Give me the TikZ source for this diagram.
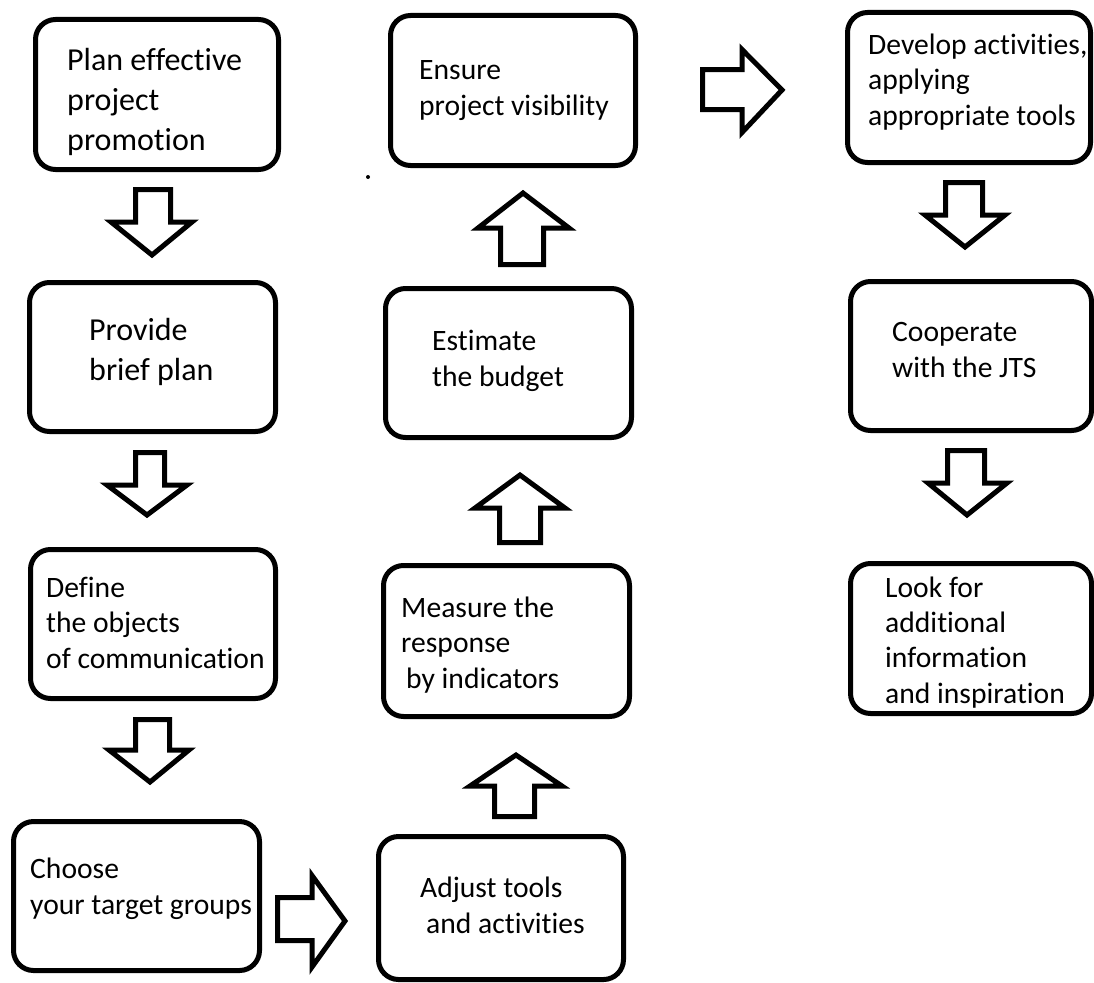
\documentclass[tikz,border=0pt]{standalone}
\usepackage{fontspec}
\setmainfont{Carlito}[Ligatures=CommonOff]
\begin{document}
\begin{tikzpicture}[x=1pt,y=-1pt,
  box/.style={draw, line width=5pt, rounded corners=20pt, inner sep=0pt, outer sep=0pt},
  bigtxt/.style={anchor=base west, inner sep=0pt, align=left, font=\fontsize{32}{40}\selectfont},
  smalltxt/.style={anchor=base west, inner sep=0pt, align=left, font=\fontsize{29.6}{35.3}\selectfont},
  barrow/.style={draw, line width=5pt, line join=miter, fill=white}]
\useasboundingbox (0,0) rectangle (1094,982);

% boxes
\node[box, minimum width=243pt, minimum height=150pt] (b1) at (157,94.5) {};
\node[box, minimum width=246pt, minimum height=149pt] (b2) at (152.5,357) {};
\node[box, minimum width=245pt, minimum height=149pt] (b3) at (153,624) {};
\node[box, minimum width=246pt, minimum height=149pt] (b4) at (136.5,896) {};
\node[box, minimum width=245pt, minimum height=143pt] (b5) at (501,908) {};
\node[box, minimum width=246pt, minimum height=151pt] (b6) at (506.5,641) {};
\node[box, minimum width=246pt, minimum height=149pt] (b7) at (508.5,363) {};
\node[box, minimum width=245pt, minimum height=150pt] (b8) at (513,90.5) {};
\node[box, minimum width=243pt, minimum height=150pt] (b9) at (969,87.5) {};
\node[box, minimum width=241pt, minimum height=149pt] (b10) at (971,356) {};
\node[box, minimum width=241pt, minimum height=150pt] (b11) at (971,638.5) {};

% texts (anchored at the baseline of the last line)
\node[bigtxt] (t1) at (67,150) {Plan effective\\project\\promotion};
\node[bigtxt] (t2) at (89,380) {Provide\\brief plan};
\node[smalltxt] (t3) at (46,668) {Define\\the objects\\of communication};
\node[smalltxt] (t4) at (30,914) {Choose\\your target groups};
\node[smalltxt] (t5) at (420,933) {Adjust tools\\\hspace*{6pt}and activities};
\node[smalltxt] (t6) at (401,688) {Measure the\\response\\\hspace*{5pt}by indicators};
\node[smalltxt] (t7) at (432,386) {Estimate\\the budget};
\node[smalltxt] (t8) at (419,115) {Ensure\\project visibility};
\node[smalltxt] (t9) at (868,125) {Develop activities,\\applying\\appropriate tools};
\node[smalltxt] (t10) at (892,377) {Cooperate\\with the JTS};
\node[smalltxt] (t11) at (885,703) {Look for\\additional\\information\\and inspiration};

% block arrows
\draw[barrow] (135.5,189.5) -- (170.5,189.5) -- (170.5,222) -- (192,222) -- (152,255) -- (111,222) -- (135.5,222) -- cycle;
\draw[barrow] (135.5,452.5) -- (164.5,452.5) -- (164.5,485) -- (187,485) -- (147,515) -- (107,485) -- (135.5,485) -- cycle;
\draw[barrow] (135.5,719.5) -- (169.5,719.5) -- (169.5,750) -- (189,750) -- (150,782) -- (109,750) -- (135.5,750) -- cycle;
\draw[barrow] (277.5,897.5) -- (312,897.5) -- (312,875.5) -- (345,921) -- (312,967) -- (312,940.5) -- (277.5,940.5) -- cycle;
\draw[barrow] (494.5,816.5) -- (534.5,816.5) -- (534.5,786) -- (562,786) -- (516,755) -- (470,786) -- (494.5,786) -- cycle;
\draw[barrow] (499.5,542.5) -- (540.5,542.5) -- (540.5,508) -- (565,508) -- (520,475) -- (475,508) -- (499.5,508) -- cycle;
\draw[barrow] (500.5,264.5) -- (543.5,264.5) -- (543.5,228) -- (569,228) -- (523,193) -- (478,228) -- (500.5,228) -- cycle;
\draw[barrow] (702.5,69.5) -- (742,69.5) -- (742,49.5) -- (782,90) -- (742,132.5) -- (742,109.5) -- (702.5,109.5) -- cycle;
\draw[barrow] (945.5,182.5) -- (982.5,182.5) -- (982.5,215) -- (1005,215) -- (965,247) -- (925,215) -- (945.5,215) -- cycle;
\draw[barrow] (947.5,450.5) -- (984.5,450.5) -- (984.5,483) -- (1007,483) -- (967,515) -- (928,483) -- (947.5,483) -- cycle;

% stray dot
\fill (368,177) circle (2pt);
\end{tikzpicture}
\end{document}
